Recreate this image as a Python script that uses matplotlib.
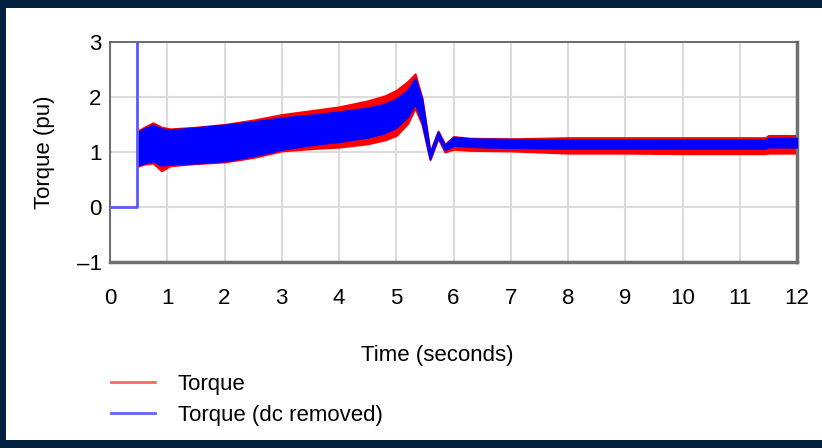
import matplotlib.pyplot as plt
from matplotlib.lines import Line2D
from matplotlib.patches import Rectangle

plt.rcParams.update({"font.family": ["Liberation Sans", "DejaVu Sans"], "font.size": 16})

# envelope of the oscillating torque signals (pu)
t = [0.48, 0.60, 0.75, 0.90, 1.05, 1.5, 2.0, 2.5, 3.0, 3.5, 4.0, 4.5, 4.8, 5.0, 5.2,
     5.33, 5.45, 5.59, 5.73, 5.85, 6.0, 6.3, 7.0, 8.0, 9.0, 10.0, 11.0, 11.45, 11.5, 12.0]
torque_hi = [1.38, 1.45, 1.53, 1.45, 1.42, 1.45, 1.50, 1.58, 1.68, 1.75, 1.82, 1.93, 2.02,
             2.12, 2.28, 2.42, 1.98, 1.00, 1.38, 1.14, 1.28, 1.25, 1.24, 1.26, 1.26, 1.26,
             1.26, 1.26, 1.30, 1.30]
torque_lo = [0.74, 0.78, 0.80, 0.66, 0.75, 0.79, 0.82, 0.90, 1.02, 1.06, 1.09, 1.15, 1.22,
             1.30, 1.52, 1.80, 1.50, 0.86, 1.25, 1.00, 1.05, 1.03, 1.02, 0.98, 0.98, 0.97,
             0.97, 0.97, 0.98, 0.98]
dc_hi = [1.35, 1.42, 1.49, 1.42, 1.40, 1.44, 1.49, 1.55, 1.62, 1.67, 1.73, 1.80, 1.87,
         1.96, 2.12, 2.33, 1.95, 0.98, 1.36, 1.12, 1.27, 1.24, 1.23, 1.22, 1.22, 1.22,
         1.22, 1.22, 1.25, 1.25]
dc_lo = [0.76, 0.80, 0.84, 0.76, 0.78, 0.80, 0.84, 0.93, 1.05, 1.13, 1.19, 1.27, 1.35,
         1.45, 1.65, 1.88, 1.55, 0.88, 1.28, 1.04, 1.12, 1.10, 1.08, 1.07, 1.07, 1.07,
         1.07, 1.07, 1.09, 1.09]

# start-up step of the dc removed trace
step_t = [0, 0.48, 0.48]
step_v = [0, 0, 3.5]

xticks = list(range(13))
yticks = [-1, 0, 1, 2, 3]
ylabels = ["\u20131", "0", "1", "2", "3"]

navy = "#04203f"

fig = plt.figure(figsize=(8.22, 4.48), dpi=100)
fig.patch.set_facecolor(navy)
fig.patches.append(Rectangle((6 / 822, 8 / 448), 1, 432 / 448, transform=fig.transFigure,
                             facecolor="white", edgecolor="none", zorder=-5))

ax = fig.add_axes([110 / 822, 1 - 262 / 448, 687 / 822, 220 / 448])
ax.set_zorder(2)
ax.patch.set_alpha(0)

ax.fill_between(t, torque_lo, torque_hi, color="#ff0000", lw=1.5, zorder=2)
ax.fill_between(t, dc_lo, dc_hi, color="#0000ff", lw=1.5, zorder=3)
ax.plot(step_t, step_v, color="#5a5aff", lw=2, zorder=4)

ax.set_xlim(0, 12)
ax.set_ylim(-1, 3)
ax.set_xticks(xticks)
ax.set_yticks(yticks)
ax.set_yticklabels(ylabels)
ax.tick_params(length=0)
ax.tick_params(axis="x", pad=19)
ax.tick_params(axis="y", pad=6)
ax.grid(True, color="#dcdcdc", lw=1.5)
ax.set_axisbelow(True)

for side in ("top", "left"):
    ax.spines[side].set_color("#555555")
    ax.spines[side].set_linewidth(1.2)
for side in ("bottom", "right"):
    ax.spines[side].set_color("#707070")
    ax.spines[side].set_linewidth(2.5)

ax.set_ylabel("Torque (pu)")
ax.yaxis.set_label_coords(-0.08, 0.5)
ax.set_xlabel("Time (seconds)")
ax.xaxis.set_label_coords(0.476, -0.375)

handles = [Line2D([], [], color="#ff6464", lw=2),
           Line2D([], [], color="#6464ff", lw=2)]
fig.legend(handles, ["Torque", "Torque (dc removed)"], loc="upper left",
           bbox_to_anchor=(91 / 822, 1 - 354 / 448), frameon=False,
           handlelength=2.0, handletextpad=1.0, labelspacing=0.45)

fig.savefig("out.png", dpi=100, facecolor=fig.get_facecolor())
